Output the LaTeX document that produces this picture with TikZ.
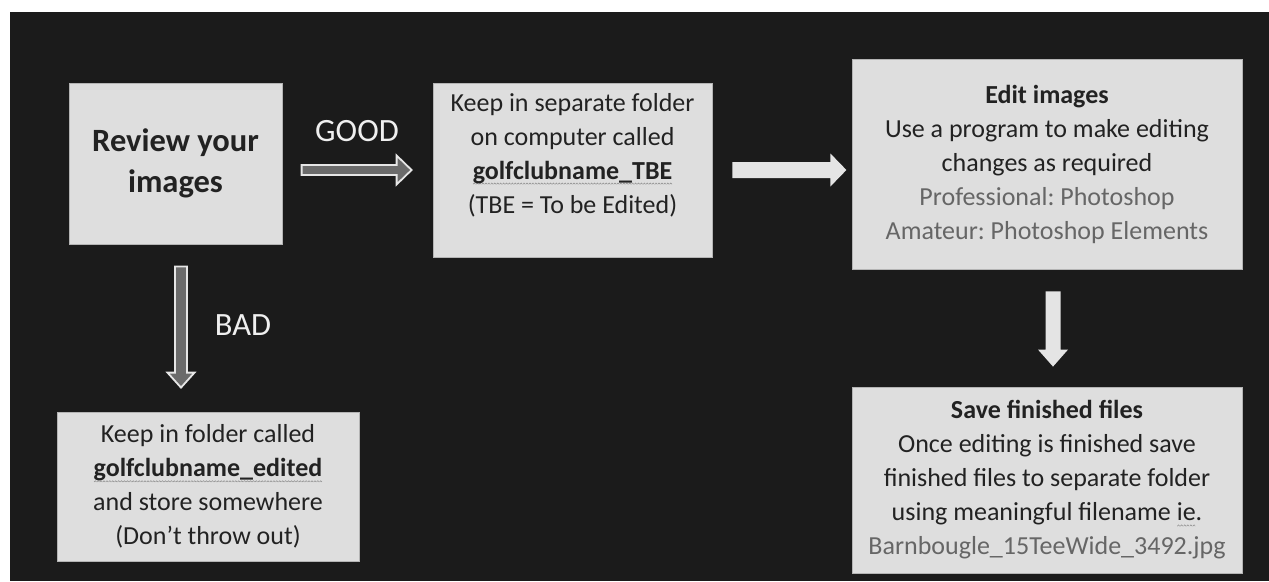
\documentclass[tikz,border=0pt]{standalone}
\usepackage{fontspec}
\setmainfont{Carlito}
\usetikzlibrary{calc}
\frenchspacing
\definecolor{bgc}{HTML}{1B1B1B}
\definecolor{boxfill}{HTML}{DEDEDE}
\definecolor{boxline}{HTML}{B4B4B4}
\definecolor{txt}{HTML}{222222}
\definecolor{gr}{HTML}{666666}
\definecolor{sqc}{HTML}{8C8C8C}
\definecolor{agray}{HTML}{6B6B6B}
\definecolor{aline}{HTML}{E6E6E6}
\definecolor{alight}{HTML}{E4E4E4}
\definecolor{lbl}{HTML}{EFEFEF}
\newsavebox\sqbox
\newcommand\sqseg{\tikz\path[draw=sqc,fill=none,line width=0.5pt,x=1pt,y=1pt] (0,0)--(1.2,1.3)--(2.4,0);}
\newcommand\sq[1]{\sbox\sqbox{#1}\rlap{\raisebox{-5.5pt}[0pt][0pt]{\hbox to \wd\sqbox{\xleaders\hbox{\sqseg}\hfill}}}\usebox\sqbox}
% horizontal block arrow: start, end, half shaft, half head, head length, style
\newcommand\harrow[6]{\draw[#6] ($(#1)+(0,#3)$) -- ($(#2)+(-#5,#3)$) -- ($(#2)+(-#5,#4)$) -- (#2) -- ($(#2)+(-#5,-#4)$) -- ($(#2)+(-#5,-#3)$) -- ($(#1)+(0,-#3)$) -- cycle;}
% downward block arrow
\newcommand\varrow[6]{\draw[#6] ($(#1)+(-#3,0)$) -- ($(#2)+(-#3,#5)$) -- ($(#2)+(-#4,#5)$) -- (#2) -- ($(#2)+(#4,#5)$) -- ($(#2)+(#3,#5)$) -- ($(#1)+(#3,0)$) -- cycle;}
\tikzset{
  x=1pt, y=1pt,
  box/.style={draw=boxline, line width=0.8pt, fill=boxfill, text=txt, align=center, inner sep=0pt,
    font=\fontsize{26}{34}\selectfont},
  grayarrow/.style={fill=agray, draw=aline, line width=1.8pt, line join=miter},
  lightarrow/.style={fill=alight, draw=none},
  lab/.style={text=lbl, font=\fontsize{32.5}{36}\selectfont, inner sep=0pt}
}
\begin{document}
\begin{tikzpicture}
\useasboundingbox (0,0) rectangle (1269,-581);
\fill[white] (0,0) rectangle (1269,-581);
\fill[bgc] (10,-12) rectangle (1269,-581);

\node[box, minimum width=213pt, minimum height=161pt, font=\bfseries\fontsize{32.5}{41}\selectfont]
  (review) at (175.5,-163.5) {Review your\\images};
\node[box, minimum width=279pt, minimum height=174pt] (tbe) at (572.5,-170)
  {Keep in separate folder\\on computer called\\\textbf{\sq{golfclubname\_TBE}}\\(TBE = To be Edited)\\\mbox{}};
\node[box, minimum width=390pt, minimum height=210pt] (edit) at (1047,-164)
  {\textbf{Edit images}\\Use a program to make editing\\changes as required\\{\color{gr}Professional: Photoshop}\\{\color{gr}Amateur: Photoshop Elements}};
\node[box, minimum width=390pt, minimum height=186pt] (save) at (1047,-480)
  {\textbf{Save finished files}\\Once editing is finished save\\finished files to separate folder\\using meaningful filename \sq{ie}.\\{\color{gr}Barnbougle\_15TeeWide\_3492.jpg}};
\node[box, minimum width=302pt, minimum height=149pt] (bad) at (208,-486.5)
  {Keep in folder called\\\textbf{\sq{golfclubname\_edited}}\\and store somewhere\\(Don’t throw out)};

\node[lab] (goodlbl) at (357,-131) {GOOD};
\node[lab] (badlbl) at (243,-325) {BAD};

% GOOD arrow
\coordinate (gs) at ($(tbe.west)+(-131,0)$);
\coordinate (ge) at ($(tbe.west)+(-21,0)$);
\harrow{gs}{ge}{5}{14.5}{15}{grayarrow}
% arrow to edit
\coordinate (es) at ($(tbe.east)+(20,0)$);
\coordinate (ee) at ($(tbe.east)+(134,0)$);
\harrow{es}{ee}{8}{16.5}{16}{lightarrow}
% down arrow to save
\coordinate (ds) at ($(edit.south)+(6,-22)$);
\coordinate (de) at ($(save.north)+(6,20)$);
\varrow{ds}{de}{7.5}{15}{17}{lightarrow}
% BAD arrow
\coordinate (bs) at ($(review.south)+(5.5,-22)$);
\coordinate (be) at ($(bs |- bad.north)+(0,24)$);
\varrow{bs}{be}{6}{13.5}{15}{grayarrow}
\end{tikzpicture}
\end{document}
